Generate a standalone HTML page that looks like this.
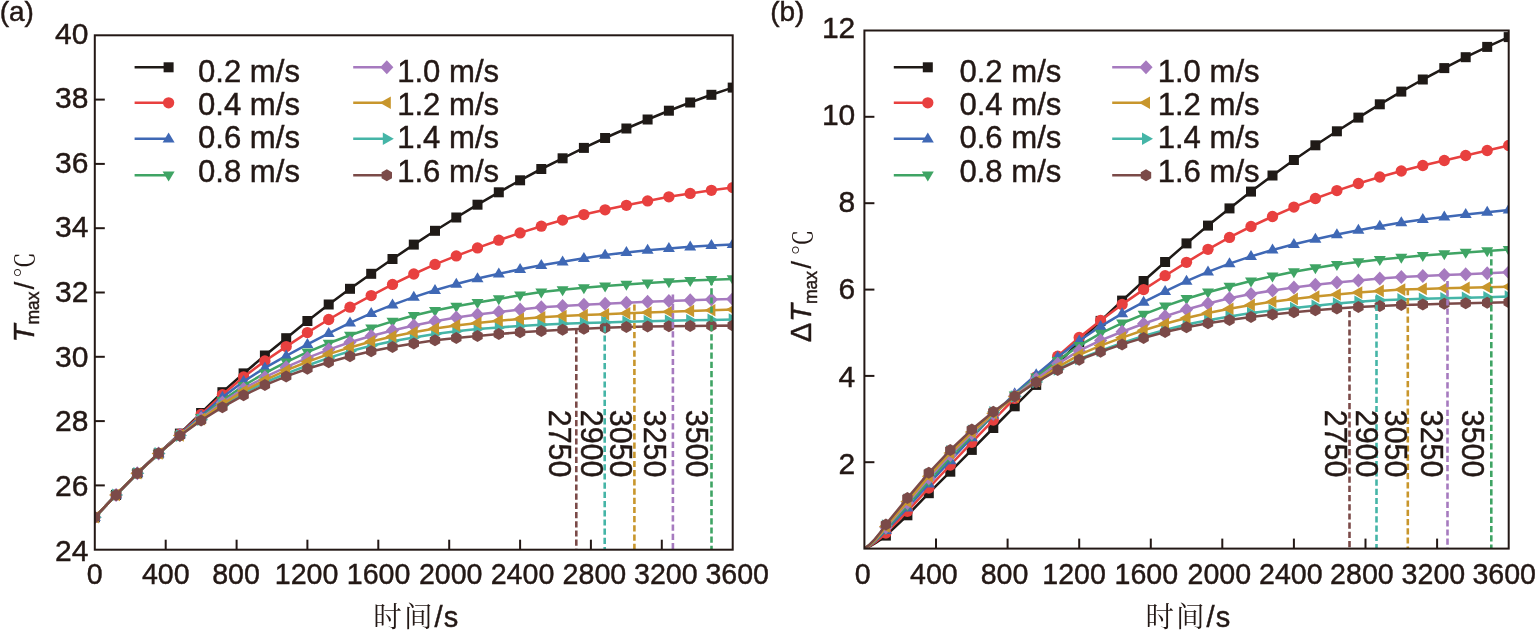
<!DOCTYPE html>
<html lang="zh">
<head>
<meta charset="utf-8">
<title>Tmax and ΔTmax versus time</title>
<style>
html,body{margin:0;padding:0;background:#fff;}
body{width:1540px;height:630px;overflow:hidden;}
svg{display:block;}
svg text{font-family:"Liberation Sans","Noto Sans CJK SC",sans-serif;fill:#231815;stroke:#231815;stroke-width:0.45px;}
svg text.cj, svg tspan.cj{font-family:"Liberation Serif","Noto Serif CJK SC",serif;font-weight:400;font-size:28.5px;stroke:none;}
</style>
</head>
<body>
<svg width="1540" height="630" viewBox="0 0 1540 630">
<rect width="1540" height="630" fill="#ffffff"/>
<clipPath id="clipa"><rect x="94.8" y="35.3" width="637.9" height="514.4"/></clipPath>
<g clip-path="url(#clipa)">
<path d="M94.8,517.3 L116.1,494.9 L137.3,473.3 L158.6,453.5 L179.9,433.6 L201.1,413.0 L222.4,392.2 L243.6,373.4 L264.9,355.5 L286.2,338.2 L307.4,321.0 L328.7,304.5 L350.0,288.8 L371.2,273.8 L392.5,259.0 L413.8,244.6 L435.0,230.8 L456.3,217.5 L477.5,204.7 L498.8,192.3 L520.1,180.3 L541.3,169.0 L562.6,158.3 L583.9,147.9 L605.1,138.0 L626.4,128.5 L647.6,119.5 L668.9,110.7 L690.2,102.5 L711.4,94.8 L732.7,87.6" fill="none" stroke="#1f1a17" stroke-width="2.55" stroke-linejoin="round"/>
<rect x="89.8" y="512.3" width="10.0" height="10.0" fill="#1f1a17"/>
<rect x="111.1" y="489.9" width="10.0" height="10.0" fill="#1f1a17"/>
<rect x="132.3" y="468.3" width="10.0" height="10.0" fill="#1f1a17"/>
<rect x="153.6" y="448.5" width="10.0" height="10.0" fill="#1f1a17"/>
<rect x="174.9" y="428.6" width="10.0" height="10.0" fill="#1f1a17"/>
<rect x="196.1" y="408.0" width="10.0" height="10.0" fill="#1f1a17"/>
<rect x="217.4" y="387.2" width="10.0" height="10.0" fill="#1f1a17"/>
<rect x="238.6" y="368.4" width="10.0" height="10.0" fill="#1f1a17"/>
<rect x="259.9" y="350.5" width="10.0" height="10.0" fill="#1f1a17"/>
<rect x="281.2" y="333.2" width="10.0" height="10.0" fill="#1f1a17"/>
<rect x="302.4" y="316.0" width="10.0" height="10.0" fill="#1f1a17"/>
<rect x="323.7" y="299.5" width="10.0" height="10.0" fill="#1f1a17"/>
<rect x="345.0" y="283.8" width="10.0" height="10.0" fill="#1f1a17"/>
<rect x="366.2" y="268.8" width="10.0" height="10.0" fill="#1f1a17"/>
<rect x="387.5" y="254.0" width="10.0" height="10.0" fill="#1f1a17"/>
<rect x="408.8" y="239.6" width="10.0" height="10.0" fill="#1f1a17"/>
<rect x="430.0" y="225.8" width="10.0" height="10.0" fill="#1f1a17"/>
<rect x="451.3" y="212.5" width="10.0" height="10.0" fill="#1f1a17"/>
<rect x="472.5" y="199.7" width="10.0" height="10.0" fill="#1f1a17"/>
<rect x="493.8" y="187.3" width="10.0" height="10.0" fill="#1f1a17"/>
<rect x="515.1" y="175.3" width="10.0" height="10.0" fill="#1f1a17"/>
<rect x="536.3" y="164.0" width="10.0" height="10.0" fill="#1f1a17"/>
<rect x="557.6" y="153.3" width="10.0" height="10.0" fill="#1f1a17"/>
<rect x="578.9" y="142.9" width="10.0" height="10.0" fill="#1f1a17"/>
<rect x="600.1" y="133.0" width="10.0" height="10.0" fill="#1f1a17"/>
<rect x="621.4" y="123.5" width="10.0" height="10.0" fill="#1f1a17"/>
<rect x="642.6" y="114.5" width="10.0" height="10.0" fill="#1f1a17"/>
<rect x="663.9" y="105.7" width="10.0" height="10.0" fill="#1f1a17"/>
<rect x="685.2" y="97.5" width="10.0" height="10.0" fill="#1f1a17"/>
<rect x="706.4" y="89.8" width="10.0" height="10.0" fill="#1f1a17"/>
<rect x="727.7" y="82.6" width="10.0" height="10.0" fill="#1f1a17"/>
<path d="M94.8,517.3 L116.1,494.9 L137.3,473.3 L158.6,453.6 L179.9,434.2 L201.1,414.5 L222.4,394.7 L243.6,377.0 L264.9,361.0 L286.2,346.6 L307.4,332.6 L328.7,319.5 L350.0,307.2 L371.2,295.6 L392.5,284.4 L413.8,274.0 L435.0,264.4 L456.3,255.9 L477.5,247.9 L498.8,240.2 L520.1,232.9 L541.3,226.2 L562.6,220.1 L583.9,214.6 L605.1,209.8 L626.4,205.3 L647.6,200.9 L668.9,196.8 L690.2,193.4 L711.4,190.3 L732.7,187.6" fill="none" stroke="#E8403F" stroke-width="2.55" stroke-linejoin="round"/>
<circle cx="94.8" cy="517.3" r="5.65" fill="#E8403F"/>
<circle cx="116.1" cy="494.9" r="5.65" fill="#E8403F"/>
<circle cx="137.3" cy="473.3" r="5.65" fill="#E8403F"/>
<circle cx="158.6" cy="453.6" r="5.65" fill="#E8403F"/>
<circle cx="179.9" cy="434.2" r="5.65" fill="#E8403F"/>
<circle cx="201.1" cy="414.5" r="5.65" fill="#E8403F"/>
<circle cx="222.4" cy="394.7" r="5.65" fill="#E8403F"/>
<circle cx="243.6" cy="377.0" r="5.65" fill="#E8403F"/>
<circle cx="264.9" cy="361.0" r="5.65" fill="#E8403F"/>
<circle cx="286.2" cy="346.6" r="5.65" fill="#E8403F"/>
<circle cx="307.4" cy="332.6" r="5.65" fill="#E8403F"/>
<circle cx="328.7" cy="319.5" r="5.65" fill="#E8403F"/>
<circle cx="350.0" cy="307.2" r="5.65" fill="#E8403F"/>
<circle cx="371.2" cy="295.6" r="5.65" fill="#E8403F"/>
<circle cx="392.5" cy="284.4" r="5.65" fill="#E8403F"/>
<circle cx="413.8" cy="274.0" r="5.65" fill="#E8403F"/>
<circle cx="435.0" cy="264.4" r="5.65" fill="#E8403F"/>
<circle cx="456.3" cy="255.9" r="5.65" fill="#E8403F"/>
<circle cx="477.5" cy="247.9" r="5.65" fill="#E8403F"/>
<circle cx="498.8" cy="240.2" r="5.65" fill="#E8403F"/>
<circle cx="520.1" cy="232.9" r="5.65" fill="#E8403F"/>
<circle cx="541.3" cy="226.2" r="5.65" fill="#E8403F"/>
<circle cx="562.6" cy="220.1" r="5.65" fill="#E8403F"/>
<circle cx="583.9" cy="214.6" r="5.65" fill="#E8403F"/>
<circle cx="605.1" cy="209.8" r="5.65" fill="#E8403F"/>
<circle cx="626.4" cy="205.3" r="5.65" fill="#E8403F"/>
<circle cx="647.6" cy="200.9" r="5.65" fill="#E8403F"/>
<circle cx="668.9" cy="196.8" r="5.65" fill="#E8403F"/>
<circle cx="690.2" cy="193.4" r="5.65" fill="#E8403F"/>
<circle cx="711.4" cy="190.3" r="5.65" fill="#E8403F"/>
<circle cx="732.7" cy="187.6" r="5.65" fill="#E8403F"/>
<path d="M94.8,517.3 L116.1,494.9 L137.3,473.3 L158.6,453.7 L179.9,434.7 L201.1,415.9 L222.4,397.2 L243.6,381.5 L264.9,367.9 L286.2,355.8 L307.4,344.4 L328.7,333.4 L350.0,322.9 L371.2,313.4 L392.5,304.9 L413.8,297.1 L435.0,290.3 L456.3,284.1 L477.5,278.6 L498.8,273.8 L520.1,269.3 L541.3,265.3 L562.6,261.8 L583.9,258.3 L605.1,255.1 L626.4,252.4 L647.6,250.2 L668.9,248.4 L690.2,246.8 L711.4,245.5 L732.7,244.4" fill="none" stroke="#3F68B5" stroke-width="2.55" stroke-linejoin="round"/>
<polygon points="88.8,520.9 100.8,520.9 94.8,510.9" fill="#3F68B5"/>
<polygon points="110.1,498.5 122.1,498.5 116.1,488.5" fill="#3F68B5"/>
<polygon points="131.3,476.9 143.3,476.9 137.3,466.9" fill="#3F68B5"/>
<polygon points="152.6,457.3 164.6,457.3 158.6,447.3" fill="#3F68B5"/>
<polygon points="173.9,438.3 185.9,438.3 179.9,428.3" fill="#3F68B5"/>
<polygon points="195.1,419.5 207.1,419.5 201.1,409.5" fill="#3F68B5"/>
<polygon points="216.4,400.8 228.4,400.8 222.4,390.8" fill="#3F68B5"/>
<polygon points="237.6,385.1 249.6,385.1 243.6,375.1" fill="#3F68B5"/>
<polygon points="258.9,371.5 270.9,371.5 264.9,361.5" fill="#3F68B5"/>
<polygon points="280.2,359.4 292.2,359.4 286.2,349.4" fill="#3F68B5"/>
<polygon points="301.4,348.0 313.4,348.0 307.4,338.0" fill="#3F68B5"/>
<polygon points="322.7,337.0 334.7,337.0 328.7,327.0" fill="#3F68B5"/>
<polygon points="344.0,326.5 356.0,326.5 350.0,316.5" fill="#3F68B5"/>
<polygon points="365.2,317.0 377.2,317.0 371.2,307.0" fill="#3F68B5"/>
<polygon points="386.5,308.5 398.5,308.5 392.5,298.5" fill="#3F68B5"/>
<polygon points="407.8,300.7 419.8,300.7 413.8,290.7" fill="#3F68B5"/>
<polygon points="429.0,293.9 441.0,293.9 435.0,283.9" fill="#3F68B5"/>
<polygon points="450.3,287.7 462.3,287.7 456.3,277.7" fill="#3F68B5"/>
<polygon points="471.5,282.2 483.5,282.2 477.5,272.2" fill="#3F68B5"/>
<polygon points="492.8,277.4 504.8,277.4 498.8,267.4" fill="#3F68B5"/>
<polygon points="514.1,272.9 526.1,272.9 520.1,262.9" fill="#3F68B5"/>
<polygon points="535.3,268.9 547.3,268.9 541.3,258.9" fill="#3F68B5"/>
<polygon points="556.6,265.4 568.6,265.4 562.6,255.4" fill="#3F68B5"/>
<polygon points="577.9,261.9 589.9,261.9 583.9,251.9" fill="#3F68B5"/>
<polygon points="599.1,258.7 611.1,258.7 605.1,248.7" fill="#3F68B5"/>
<polygon points="620.4,256.0 632.4,256.0 626.4,246.0" fill="#3F68B5"/>
<polygon points="641.6,253.8 653.6,253.8 647.6,243.8" fill="#3F68B5"/>
<polygon points="662.9,252.0 674.9,252.0 668.9,242.0" fill="#3F68B5"/>
<polygon points="684.2,250.4 696.2,250.4 690.2,240.4" fill="#3F68B5"/>
<polygon points="705.4,249.1 717.4,249.1 711.4,239.1" fill="#3F68B5"/>
<polygon points="726.7,248.0 738.7,248.0 732.7,238.0" fill="#3F68B5"/>
<path d="M94.8,517.3 L116.1,494.9 L137.3,473.3 L158.6,453.6 L179.9,435.2 L201.1,417.5 L222.4,400.6 L243.6,385.7 L264.9,373.1 L286.2,362.2 L307.4,352.1 L328.7,343.3 L350.0,335.3 L371.2,328.0 L392.5,321.4 L413.8,315.6 L435.0,310.6 L456.3,306.3 L477.5,302.6 L498.8,298.9 L520.1,295.2 L541.3,292.0 L562.6,289.8 L583.9,287.8 L605.1,286.0 L626.4,284.4 L647.6,283.0 L668.9,281.8 L690.2,280.6 L711.4,279.7 L732.7,278.9" fill="none" stroke="#3FA464" stroke-width="2.55" stroke-linejoin="round"/>
<polygon points="88.8,513.7 100.8,513.7 94.8,523.7" fill="#3FA464"/>
<polygon points="110.1,491.3 122.1,491.3 116.1,501.3" fill="#3FA464"/>
<polygon points="131.3,469.7 143.3,469.7 137.3,479.7" fill="#3FA464"/>
<polygon points="152.6,450.0 164.6,450.0 158.6,460.0" fill="#3FA464"/>
<polygon points="173.9,431.6 185.9,431.6 179.9,441.6" fill="#3FA464"/>
<polygon points="195.1,413.9 207.1,413.9 201.1,423.9" fill="#3FA464"/>
<polygon points="216.4,397.0 228.4,397.0 222.4,407.0" fill="#3FA464"/>
<polygon points="237.6,382.1 249.6,382.1 243.6,392.1" fill="#3FA464"/>
<polygon points="258.9,369.5 270.9,369.5 264.9,379.5" fill="#3FA464"/>
<polygon points="280.2,358.6 292.2,358.6 286.2,368.6" fill="#3FA464"/>
<polygon points="301.4,348.5 313.4,348.5 307.4,358.5" fill="#3FA464"/>
<polygon points="322.7,339.7 334.7,339.7 328.7,349.7" fill="#3FA464"/>
<polygon points="344.0,331.7 356.0,331.7 350.0,341.7" fill="#3FA464"/>
<polygon points="365.2,324.4 377.2,324.4 371.2,334.4" fill="#3FA464"/>
<polygon points="386.5,317.8 398.5,317.8 392.5,327.8" fill="#3FA464"/>
<polygon points="407.8,312.0 419.8,312.0 413.8,322.0" fill="#3FA464"/>
<polygon points="429.0,307.0 441.0,307.0 435.0,317.0" fill="#3FA464"/>
<polygon points="450.3,302.7 462.3,302.7 456.3,312.7" fill="#3FA464"/>
<polygon points="471.5,299.0 483.5,299.0 477.5,309.0" fill="#3FA464"/>
<polygon points="492.8,295.3 504.8,295.3 498.8,305.3" fill="#3FA464"/>
<polygon points="514.1,291.6 526.1,291.6 520.1,301.6" fill="#3FA464"/>
<polygon points="535.3,288.4 547.3,288.4 541.3,298.4" fill="#3FA464"/>
<polygon points="556.6,286.2 568.6,286.2 562.6,296.2" fill="#3FA464"/>
<polygon points="577.9,284.2 589.9,284.2 583.9,294.2" fill="#3FA464"/>
<polygon points="599.1,282.4 611.1,282.4 605.1,292.4" fill="#3FA464"/>
<polygon points="620.4,280.8 632.4,280.8 626.4,290.8" fill="#3FA464"/>
<polygon points="641.6,279.4 653.6,279.4 647.6,289.4" fill="#3FA464"/>
<polygon points="662.9,278.2 674.9,278.2 668.9,288.2" fill="#3FA464"/>
<polygon points="684.2,277.0 696.2,277.0 690.2,287.0" fill="#3FA464"/>
<polygon points="705.4,276.1 717.4,276.1 711.4,286.1" fill="#3FA464"/>
<polygon points="726.7,275.3 738.7,275.3 732.7,285.3" fill="#3FA464"/>
<path d="M94.8,517.3 L116.1,494.9 L137.3,473.3 L158.6,453.5 L179.9,435.3 L201.1,418.3 L222.4,402.6 L243.6,388.7 L264.9,377.2 L286.2,367.2 L307.4,357.9 L328.7,349.6 L350.0,342.3 L371.2,336.0 L392.5,330.5 L413.8,325.6 L435.0,321.2 L456.3,317.5 L477.5,314.5 L498.8,312.1 L520.1,309.5 L541.3,307.3 L562.6,306.0 L583.9,304.8 L605.1,303.7 L626.4,302.7 L647.6,301.8 L668.9,301.0 L690.2,300.2 L711.4,299.5 L732.7,298.9" fill="none" stroke="#A67ABF" stroke-width="2.55" stroke-linejoin="round"/>
<polygon points="88.2,517.3 94.8,510.3 101.4,517.3 94.8,524.3" fill="#A67ABF"/>
<polygon points="109.5,494.9 116.1,487.9 122.7,494.9 116.1,501.9" fill="#A67ABF"/>
<polygon points="130.7,473.3 137.3,466.3 143.9,473.3 137.3,480.3" fill="#A67ABF"/>
<polygon points="152.0,453.5 158.6,446.5 165.2,453.5 158.6,460.5" fill="#A67ABF"/>
<polygon points="173.3,435.3 179.9,428.3 186.5,435.3 179.9,442.3" fill="#A67ABF"/>
<polygon points="194.5,418.3 201.1,411.3 207.7,418.3 201.1,425.3" fill="#A67ABF"/>
<polygon points="215.8,402.6 222.4,395.6 229.0,402.6 222.4,409.6" fill="#A67ABF"/>
<polygon points="237.0,388.7 243.6,381.7 250.2,388.7 243.6,395.7" fill="#A67ABF"/>
<polygon points="258.3,377.2 264.9,370.2 271.5,377.2 264.9,384.2" fill="#A67ABF"/>
<polygon points="279.6,367.2 286.2,360.2 292.8,367.2 286.2,374.2" fill="#A67ABF"/>
<polygon points="300.8,357.9 307.4,350.9 314.0,357.9 307.4,364.9" fill="#A67ABF"/>
<polygon points="322.1,349.6 328.7,342.6 335.3,349.6 328.7,356.6" fill="#A67ABF"/>
<polygon points="343.4,342.3 350.0,335.3 356.6,342.3 350.0,349.3" fill="#A67ABF"/>
<polygon points="364.6,336.0 371.2,329.0 377.8,336.0 371.2,343.0" fill="#A67ABF"/>
<polygon points="385.9,330.5 392.5,323.5 399.1,330.5 392.5,337.5" fill="#A67ABF"/>
<polygon points="407.2,325.6 413.8,318.6 420.4,325.6 413.8,332.6" fill="#A67ABF"/>
<polygon points="428.4,321.2 435.0,314.2 441.6,321.2 435.0,328.2" fill="#A67ABF"/>
<polygon points="449.7,317.5 456.3,310.5 462.9,317.5 456.3,324.5" fill="#A67ABF"/>
<polygon points="470.9,314.5 477.5,307.5 484.1,314.5 477.5,321.5" fill="#A67ABF"/>
<polygon points="492.2,312.1 498.8,305.1 505.4,312.1 498.8,319.1" fill="#A67ABF"/>
<polygon points="513.5,309.5 520.1,302.5 526.7,309.5 520.1,316.5" fill="#A67ABF"/>
<polygon points="534.7,307.3 541.3,300.3 547.9,307.3 541.3,314.3" fill="#A67ABF"/>
<polygon points="556.0,306.0 562.6,299.0 569.2,306.0 562.6,313.0" fill="#A67ABF"/>
<polygon points="577.3,304.8 583.9,297.8 590.5,304.8 583.9,311.8" fill="#A67ABF"/>
<polygon points="598.5,303.7 605.1,296.7 611.7,303.7 605.1,310.7" fill="#A67ABF"/>
<polygon points="619.8,302.7 626.4,295.7 633.0,302.7 626.4,309.7" fill="#A67ABF"/>
<polygon points="641.0,301.8 647.6,294.8 654.2,301.8 647.6,308.8" fill="#A67ABF"/>
<polygon points="662.3,301.0 668.9,294.0 675.5,301.0 668.9,308.0" fill="#A67ABF"/>
<polygon points="683.6,300.2 690.2,293.2 696.8,300.2 690.2,307.2" fill="#A67ABF"/>
<polygon points="704.8,299.5 711.4,292.5 718.0,299.5 711.4,306.5" fill="#A67ABF"/>
<polygon points="726.1,298.9 732.7,291.9 739.3,298.9 732.7,305.9" fill="#A67ABF"/>
<path d="M94.8,517.3 L116.1,494.9 L137.3,473.3 L158.6,453.4 L179.9,435.6 L201.1,419.7 L222.4,405.4 L243.6,392.9 L264.9,382.5 L286.2,373.6 L307.4,365.5 L328.7,357.9 L350.0,351.3 L371.2,345.8 L392.5,341.2 L413.8,337.4 L435.0,334.1 L456.3,331.3 L477.5,329.0 L498.8,327.4 L520.1,325.9 L541.3,324.7 L562.6,323.8 L583.9,323.1 L605.1,322.4 L626.4,321.8 L647.6,321.3 L668.9,320.8 L690.2,320.3 L711.4,319.9 L732.7,319.6" fill="none" stroke="#45B5A7" stroke-width="2.55" stroke-linejoin="round"/>
<polygon points="90.8,511.0 90.8,523.6 101.8,517.3" fill="#45B5A7"/>
<polygon points="112.1,488.6 112.1,501.2 123.1,494.9" fill="#45B5A7"/>
<polygon points="133.4,467.0 133.4,479.6 144.4,473.3" fill="#45B5A7"/>
<polygon points="154.6,447.1 154.6,459.7 165.6,453.4" fill="#45B5A7"/>
<polygon points="175.9,429.3 175.9,441.9 186.9,435.6" fill="#45B5A7"/>
<polygon points="197.2,413.4 197.2,426.0 208.2,419.7" fill="#45B5A7"/>
<polygon points="218.4,399.1 218.4,411.7 229.4,405.4" fill="#45B5A7"/>
<polygon points="239.7,386.6 239.7,399.2 250.7,392.9" fill="#45B5A7"/>
<polygon points="260.9,376.2 260.9,388.8 271.9,382.5" fill="#45B5A7"/>
<polygon points="282.2,367.3 282.2,379.9 293.2,373.6" fill="#45B5A7"/>
<polygon points="303.5,359.2 303.5,371.8 314.5,365.5" fill="#45B5A7"/>
<polygon points="324.7,351.6 324.7,364.2 335.7,357.9" fill="#45B5A7"/>
<polygon points="346.0,345.0 346.0,357.6 357.0,351.3" fill="#45B5A7"/>
<polygon points="367.3,339.5 367.3,352.1 378.3,345.8" fill="#45B5A7"/>
<polygon points="388.5,334.9 388.5,347.5 399.5,341.2" fill="#45B5A7"/>
<polygon points="409.8,331.1 409.8,343.7 420.8,337.4" fill="#45B5A7"/>
<polygon points="431.1,327.8 431.1,340.4 442.1,334.1" fill="#45B5A7"/>
<polygon points="452.3,325.0 452.3,337.6 463.3,331.3" fill="#45B5A7"/>
<polygon points="473.6,322.7 473.6,335.3 484.6,329.0" fill="#45B5A7"/>
<polygon points="494.8,321.1 494.8,333.7 505.8,327.4" fill="#45B5A7"/>
<polygon points="516.1,319.6 516.1,332.2 527.1,325.9" fill="#45B5A7"/>
<polygon points="537.4,318.4 537.4,331.0 548.4,324.7" fill="#45B5A7"/>
<polygon points="558.6,317.5 558.6,330.1 569.6,323.8" fill="#45B5A7"/>
<polygon points="579.9,316.8 579.9,329.4 590.9,323.1" fill="#45B5A7"/>
<polygon points="601.2,316.1 601.2,328.7 612.2,322.4" fill="#45B5A7"/>
<polygon points="622.4,315.5 622.4,328.1 633.4,321.8" fill="#45B5A7"/>
<polygon points="643.7,315.0 643.7,327.6 654.7,321.3" fill="#45B5A7"/>
<polygon points="664.9,314.5 664.9,327.1 675.9,320.8" fill="#45B5A7"/>
<polygon points="686.2,314.0 686.2,326.6 697.2,320.3" fill="#45B5A7"/>
<polygon points="707.5,313.6 707.5,326.2 718.5,319.9" fill="#45B5A7"/>
<polygon points="728.7,313.3 728.7,325.9 739.7,319.6" fill="#45B5A7"/>
<path d="M94.8,517.3 L116.1,494.9 L137.3,473.3 L158.6,453.5 L179.9,435.5 L201.1,419.1 L222.4,404.2 L243.6,391.1 L264.9,380.1 L286.2,370.4 L307.4,361.7 L328.7,354.1 L350.0,347.4 L371.2,341.4 L392.5,336.4 L413.8,332.2 L435.0,328.6 L456.3,325.4 L477.5,322.9 L498.8,320.8 L520.1,318.9 L541.3,317.2 L562.6,316.1 L583.9,315.1 L605.1,314.2 L626.4,313.3 L647.6,312.5 L668.9,311.7 L690.2,310.9 L711.4,310.2 L732.7,309.6" fill="none" stroke="#C8962C" stroke-width="2.55" stroke-linejoin="round"/>
<polygon points="98.8,511.0 98.8,523.6 87.8,517.3" fill="#C8962C"/>
<polygon points="120.0,488.6 120.0,501.2 109.0,494.9" fill="#C8962C"/>
<polygon points="141.3,467.0 141.3,479.6 130.3,473.3" fill="#C8962C"/>
<polygon points="162.6,447.2 162.6,459.8 151.6,453.5" fill="#C8962C"/>
<polygon points="183.8,429.2 183.8,441.8 172.8,435.5" fill="#C8962C"/>
<polygon points="205.1,412.8 205.1,425.4 194.1,419.1" fill="#C8962C"/>
<polygon points="226.3,397.9 226.3,410.5 215.3,404.2" fill="#C8962C"/>
<polygon points="247.6,384.8 247.6,397.4 236.6,391.1" fill="#C8962C"/>
<polygon points="268.9,373.8 268.9,386.4 257.9,380.1" fill="#C8962C"/>
<polygon points="290.1,364.1 290.1,376.7 279.1,370.4" fill="#C8962C"/>
<polygon points="311.4,355.4 311.4,368.0 300.4,361.7" fill="#C8962C"/>
<polygon points="332.7,347.8 332.7,360.4 321.7,354.1" fill="#C8962C"/>
<polygon points="353.9,341.1 353.9,353.7 342.9,347.4" fill="#C8962C"/>
<polygon points="375.2,335.1 375.2,347.7 364.2,341.4" fill="#C8962C"/>
<polygon points="396.4,330.1 396.4,342.7 385.4,336.4" fill="#C8962C"/>
<polygon points="417.7,325.9 417.7,338.5 406.7,332.2" fill="#C8962C"/>
<polygon points="439.0,322.3 439.0,334.9 428.0,328.6" fill="#C8962C"/>
<polygon points="460.2,319.1 460.2,331.7 449.2,325.4" fill="#C8962C"/>
<polygon points="481.5,316.6 481.5,329.2 470.5,322.9" fill="#C8962C"/>
<polygon points="502.8,314.5 502.8,327.1 491.8,320.8" fill="#C8962C"/>
<polygon points="524.0,312.6 524.0,325.2 513.0,318.9" fill="#C8962C"/>
<polygon points="545.3,310.9 545.3,323.5 534.3,317.2" fill="#C8962C"/>
<polygon points="566.6,309.8 566.6,322.4 555.6,316.1" fill="#C8962C"/>
<polygon points="587.8,308.8 587.8,321.4 576.8,315.1" fill="#C8962C"/>
<polygon points="609.1,307.9 609.1,320.5 598.1,314.2" fill="#C8962C"/>
<polygon points="630.3,307.0 630.3,319.6 619.3,313.3" fill="#C8962C"/>
<polygon points="651.6,306.2 651.6,318.8 640.6,312.5" fill="#C8962C"/>
<polygon points="672.9,305.4 672.9,318.0 661.9,311.7" fill="#C8962C"/>
<polygon points="694.1,304.6 694.1,317.2 683.1,310.9" fill="#C8962C"/>
<polygon points="715.4,303.9 715.4,316.5 704.4,310.2" fill="#C8962C"/>
<polygon points="736.7,303.3 736.7,315.9 725.7,309.6" fill="#C8962C"/>
<path d="M94.8,517.3 L116.1,494.9 L137.3,473.3 L158.6,453.3 L179.9,435.8 L201.1,420.5 L222.4,407.2 L243.6,395.3 L264.9,385.1 L286.2,376.4 L307.4,368.8 L328.7,362.2 L350.0,356.2 L371.2,351.2 L392.5,347.0 L413.8,343.4 L435.0,340.3 L456.3,337.9 L477.5,335.9 L498.8,334.0 L520.1,332.3 L541.3,331.0 L562.6,329.8 L583.9,328.7 L605.1,327.8 L626.4,327.1 L647.6,326.6 L668.9,326.2 L690.2,325.9 L711.4,325.7 L732.7,325.6" fill="none" stroke="#7B4A48" stroke-width="2.55" stroke-linejoin="round"/>
<polygon points="94.8,511.3 100.0,514.3 100.0,520.3 94.8,523.3 89.6,520.3 89.6,514.3" fill="#7B4A48"/>
<polygon points="116.1,488.9 121.3,491.9 121.3,497.9 116.1,500.9 110.9,497.9 110.9,491.9" fill="#7B4A48"/>
<polygon points="137.3,467.3 142.5,470.3 142.5,476.3 137.3,479.3 132.1,476.3 132.1,470.3" fill="#7B4A48"/>
<polygon points="158.6,447.3 163.8,450.3 163.8,456.3 158.6,459.3 153.4,456.3 153.4,450.3" fill="#7B4A48"/>
<polygon points="179.9,429.8 185.1,432.8 185.1,438.8 179.9,441.8 174.7,438.8 174.7,432.8" fill="#7B4A48"/>
<polygon points="201.1,414.5 206.3,417.5 206.3,423.5 201.1,426.5 195.9,423.5 195.9,417.5" fill="#7B4A48"/>
<polygon points="222.4,401.2 227.6,404.2 227.6,410.2 222.4,413.2 217.2,410.2 217.2,404.2" fill="#7B4A48"/>
<polygon points="243.6,389.3 248.8,392.3 248.8,398.3 243.6,401.3 238.4,398.3 238.4,392.3" fill="#7B4A48"/>
<polygon points="264.9,379.1 270.1,382.1 270.1,388.1 264.9,391.1 259.7,388.1 259.7,382.1" fill="#7B4A48"/>
<polygon points="286.2,370.4 291.4,373.4 291.4,379.4 286.2,382.4 281.0,379.4 281.0,373.4" fill="#7B4A48"/>
<polygon points="307.4,362.8 312.6,365.8 312.6,371.8 307.4,374.8 302.2,371.8 302.2,365.8" fill="#7B4A48"/>
<polygon points="328.7,356.2 333.9,359.2 333.9,365.2 328.7,368.2 323.5,365.2 323.5,359.2" fill="#7B4A48"/>
<polygon points="350.0,350.2 355.2,353.2 355.2,359.2 350.0,362.2 344.8,359.2 344.8,353.2" fill="#7B4A48"/>
<polygon points="371.2,345.2 376.4,348.2 376.4,354.2 371.2,357.2 366.0,354.2 366.0,348.2" fill="#7B4A48"/>
<polygon points="392.5,341.0 397.7,344.0 397.7,350.0 392.5,353.0 387.3,350.0 387.3,344.0" fill="#7B4A48"/>
<polygon points="413.8,337.4 419.0,340.4 419.0,346.4 413.8,349.4 408.6,346.4 408.6,340.4" fill="#7B4A48"/>
<polygon points="435.0,334.3 440.2,337.3 440.2,343.3 435.0,346.3 429.8,343.3 429.8,337.3" fill="#7B4A48"/>
<polygon points="456.3,331.9 461.5,334.9 461.5,340.9 456.3,343.9 451.1,340.9 451.1,334.9" fill="#7B4A48"/>
<polygon points="477.5,329.9 482.7,332.9 482.7,338.9 477.5,341.9 472.3,338.9 472.3,332.9" fill="#7B4A48"/>
<polygon points="498.8,328.0 504.0,331.0 504.0,337.0 498.8,340.0 493.6,337.0 493.6,331.0" fill="#7B4A48"/>
<polygon points="520.1,326.3 525.3,329.3 525.3,335.3 520.1,338.3 514.9,335.3 514.9,329.3" fill="#7B4A48"/>
<polygon points="541.3,325.0 546.5,328.0 546.5,334.0 541.3,337.0 536.1,334.0 536.1,328.0" fill="#7B4A48"/>
<polygon points="562.6,323.8 567.8,326.8 567.8,332.8 562.6,335.8 557.4,332.8 557.4,326.8" fill="#7B4A48"/>
<polygon points="583.9,322.7 589.1,325.7 589.1,331.7 583.9,334.7 578.7,331.7 578.7,325.7" fill="#7B4A48"/>
<polygon points="605.1,321.8 610.3,324.8 610.3,330.8 605.1,333.8 599.9,330.8 599.9,324.8" fill="#7B4A48"/>
<polygon points="626.4,321.1 631.6,324.1 631.6,330.1 626.4,333.1 621.2,330.1 621.2,324.1" fill="#7B4A48"/>
<polygon points="647.6,320.6 652.8,323.6 652.8,329.6 647.6,332.6 642.4,329.6 642.4,323.6" fill="#7B4A48"/>
<polygon points="668.9,320.2 674.1,323.2 674.1,329.2 668.9,332.2 663.7,329.2 663.7,323.2" fill="#7B4A48"/>
<polygon points="690.2,319.9 695.4,322.9 695.4,328.9 690.2,331.9 685.0,328.9 685.0,322.9" fill="#7B4A48"/>
<polygon points="711.4,319.7 716.6,322.7 716.6,328.7 711.4,331.7 706.2,328.7 706.2,322.7" fill="#7B4A48"/>
<polygon points="732.7,319.6 737.9,322.6 737.9,328.6 732.7,331.6 727.5,328.6 727.5,322.6" fill="#7B4A48"/>
<line x1="576.3" y1="328" x2="576.3" y2="549.7" stroke="#7B4A48" stroke-width="2.6" stroke-dasharray="6.2 3"/>
<line x1="604.7" y1="317" x2="604.7" y2="549.7" stroke="#45B5A7" stroke-width="2.6" stroke-dasharray="6.2 3"/>
<line x1="634.4" y1="304.5" x2="634.4" y2="549.7" stroke="#C8962C" stroke-width="2.6" stroke-dasharray="6.2 3"/>
<line x1="672.9" y1="294.5" x2="672.9" y2="549.7" stroke="#A67ABF" stroke-width="2.6" stroke-dasharray="6.2 3"/>
<line x1="711.5" y1="279" x2="711.5" y2="549.7" stroke="#3FA464" stroke-width="2.6" stroke-dasharray="6.2 3"/>
</g>
<rect x="94.8" y="35.3" width="637.9" height="514.4" fill="none" stroke="#231815" stroke-width="2"/>
<line x1="165.7" y1="549.7" x2="165.7" y2="539.7" stroke="#231815" stroke-width="2"/>
<line x1="236.6" y1="549.7" x2="236.6" y2="539.7" stroke="#231815" stroke-width="2"/>
<line x1="307.4" y1="549.7" x2="307.4" y2="539.7" stroke="#231815" stroke-width="2"/>
<line x1="378.3" y1="549.7" x2="378.3" y2="539.7" stroke="#231815" stroke-width="2"/>
<line x1="449.2" y1="549.7" x2="449.2" y2="539.7" stroke="#231815" stroke-width="2"/>
<line x1="520.1" y1="549.7" x2="520.1" y2="539.7" stroke="#231815" stroke-width="2"/>
<line x1="590.9" y1="549.7" x2="590.9" y2="539.7" stroke="#231815" stroke-width="2"/>
<line x1="661.8" y1="549.7" x2="661.8" y2="539.7" stroke="#231815" stroke-width="2"/>
<line x1="94.8" y1="485.4" x2="104.8" y2="485.4" stroke="#231815" stroke-width="2"/>
<line x1="94.8" y1="421.1" x2="104.8" y2="421.1" stroke="#231815" stroke-width="2"/>
<line x1="94.8" y1="356.8" x2="104.8" y2="356.8" stroke="#231815" stroke-width="2"/>
<line x1="94.8" y1="292.5" x2="104.8" y2="292.5" stroke="#231815" stroke-width="2"/>
<line x1="94.8" y1="228.2" x2="104.8" y2="228.2" stroke="#231815" stroke-width="2"/>
<line x1="94.8" y1="163.9" x2="104.8" y2="163.9" stroke="#231815" stroke-width="2"/>
<line x1="94.8" y1="99.6" x2="104.8" y2="99.6" stroke="#231815" stroke-width="2"/>
<text x="88.4" y="560.6" text-anchor="end" font-size="30">24</text>
<text x="88.4" y="496.0" text-anchor="end" font-size="30">26</text>
<text x="88.4" y="431.3" text-anchor="end" font-size="30">28</text>
<text x="88.4" y="366.7" text-anchor="end" font-size="30">30</text>
<text x="88.4" y="302.1" text-anchor="end" font-size="30">32</text>
<text x="88.4" y="237.4" text-anchor="end" font-size="30">34</text>
<text x="88.4" y="172.8" text-anchor="end" font-size="30">36</text>
<text x="88.4" y="108.1" text-anchor="end" font-size="30">38</text>
<text x="88.4" y="43.5" text-anchor="end" font-size="30">40</text>
<text x="86.7" y="584.0" font-size="30" textLength="15.9" lengthAdjust="spacingAndGlyphs">0</text>
<text x="141.9" y="584.0" font-size="30" textLength="47.7" lengthAdjust="spacingAndGlyphs">400</text>
<text x="212.2" y="584.0" font-size="30" textLength="47.7" lengthAdjust="spacingAndGlyphs">800</text>
<text x="274.8" y="584.0" font-size="30" textLength="63.6" lengthAdjust="spacingAndGlyphs">1200</text>
<text x="346.8" y="584.0" font-size="30" textLength="63.6" lengthAdjust="spacingAndGlyphs">1600</text>
<text x="418.9" y="584.0" font-size="30" textLength="63.6" lengthAdjust="spacingAndGlyphs">2000</text>
<text x="490.7" y="584.0" font-size="30" textLength="63.6" lengthAdjust="spacingAndGlyphs">2400</text>
<text x="562.6" y="584.0" font-size="30" textLength="63.6" lengthAdjust="spacingAndGlyphs">2800</text>
<text x="634.0" y="584.0" font-size="30" textLength="63.6" lengthAdjust="spacingAndGlyphs">3200</text>
<text x="705.4" y="584.0" font-size="30" textLength="63.6" lengthAdjust="spacingAndGlyphs">3600</text>
<text y="627.3" class="cj"><tspan x="373.3">时</tspan><tspan x="403.9">间</tspan></text>
<text y="626.5" font-size="29"><tspan x="434.4">/</tspan><tspan x="443.7">s</tspan></text>
<text transform="translate(549.2,409.8) rotate(90)" font-size="31.2" textLength="67.6" lengthAdjust="spacingAndGlyphs">2750</text>
<text transform="translate(580.6,409.8) rotate(90)" font-size="31.2" textLength="67.6" lengthAdjust="spacingAndGlyphs">2900</text>
<text transform="translate(609.7,409.8) rotate(90)" font-size="31.2" textLength="67.6" lengthAdjust="spacingAndGlyphs">3050</text>
<text transform="translate(644.3,409.8) rotate(90)" font-size="31.2" textLength="67.6" lengthAdjust="spacingAndGlyphs">3250</text>
<text transform="translate(686.2,409.8) rotate(90)" font-size="31.2" textLength="67.6" lengthAdjust="spacingAndGlyphs">3500</text>
<line x1="134.6" y1="67.3" x2="168.6" y2="67.3" stroke="#1f1a17" stroke-width="2.55"/>
<rect x="163.6" y="62.3" width="10.0" height="10.0" fill="#1f1a17"/>
<text x="198.0" y="81.8" font-size="31.1">0.2 m/s</text>
<line x1="134.6" y1="102.8" x2="168.6" y2="102.8" stroke="#E8403F" stroke-width="2.55"/>
<circle cx="168.6" cy="102.8" r="5.65" fill="#E8403F"/>
<text x="198.0" y="115.1" font-size="31.1">0.4 m/s</text>
<line x1="134.6" y1="138.8" x2="168.6" y2="138.8" stroke="#3F68B5" stroke-width="2.55"/>
<polygon points="162.6,142.4 174.6,142.4 168.6,132.4" fill="#3F68B5"/>
<text x="198.0" y="148.4" font-size="31.1">0.6 m/s</text>
<line x1="134.6" y1="175.2" x2="168.6" y2="175.2" stroke="#3FA464" stroke-width="2.55"/>
<polygon points="162.6,171.6 174.6,171.6 168.6,181.6" fill="#3FA464"/>
<text x="198.0" y="181.7" font-size="31.1">0.8 m/s</text>
<line x1="353.2" y1="67.3" x2="386.8" y2="67.3" stroke="#A67ABF" stroke-width="2.55"/>
<polygon points="380.2,67.3 386.8,60.3 393.4,67.3 386.8,74.3" fill="#A67ABF"/>
<text x="397.2" y="81.8" font-size="31.1">1.0 m/s</text>
<line x1="353.2" y1="102.8" x2="386.8" y2="102.8" stroke="#C8962C" stroke-width="2.55"/>
<polygon points="390.8,96.5 390.8,109.1 379.8,102.8" fill="#C8962C"/>
<text x="397.2" y="115.1" font-size="31.1">1.2 m/s</text>
<line x1="353.2" y1="138.8" x2="386.8" y2="138.8" stroke="#45B5A7" stroke-width="2.55"/>
<polygon points="382.8,132.5 382.8,145.1 393.8,138.8" fill="#45B5A7"/>
<text x="397.2" y="148.4" font-size="31.1">1.4 m/s</text>
<line x1="353.2" y1="175.2" x2="386.8" y2="175.2" stroke="#7B4A48" stroke-width="2.55"/>
<polygon points="386.8,169.2 392.0,172.2 392.0,178.2 386.8,181.2 381.6,178.2 381.6,172.2" fill="#7B4A48"/>
<text x="397.2" y="181.7" font-size="31.1">1.6 m/s</text>
<text x="-0.3" y="21.2" font-size="28">(a)</text>
<text transform="translate(33.9,342.3) rotate(-90)" font-size="29" font-style="italic">T</text>
<text transform="translate(39.4,324.6) rotate(-90)" font-size="17.5">max</text>
<text transform="translate(33.9,289.6) rotate(-90)" font-size="28" style="stroke-width:0.2px">/</text>
<text transform="translate(34.199999999999996,278.0) rotate(-90)" class="cj" style="font-size:26px">℃</text>
<clipPath id="clipb"><rect x="864.4" y="30.5" width="644.3" height="518.1"/></clipPath>
<g clip-path="url(#clipb)">
<path d="M864.4,548.5 Q873.4,545.7 885.9,535.6 L907.4,515.3 928.8,493.2 950.3,471.7 971.8,449.9 993.3,428.0 1014.7,406.3 1036.2,384.9 1057.7,363.5 1079.2,342.0 1100.6,320.9 1122.1,300.6 1143.6,281.0 1165.1,262.0 1186.5,243.4 1208.0,225.6 1229.5,208.4 1251.0,191.6 1272.5,175.5 1293.9,160.0 1315.4,145.3 1336.9,131.3 1358.4,117.6 1379.8,104.3 1401.3,91.6 1422.8,79.5 1444.3,68.1 1465.7,57.2 1487.2,46.9 1508.7,37.1" fill="none" stroke="#1f1a17" stroke-width="2.55" stroke-linejoin="round"/>
<rect x="880.9" y="530.6" width="10.0" height="10.0" fill="#1f1a17"/>
<rect x="902.4" y="510.3" width="10.0" height="10.0" fill="#1f1a17"/>
<rect x="923.8" y="488.2" width="10.0" height="10.0" fill="#1f1a17"/>
<rect x="945.3" y="466.7" width="10.0" height="10.0" fill="#1f1a17"/>
<rect x="966.8" y="444.9" width="10.0" height="10.0" fill="#1f1a17"/>
<rect x="988.3" y="423.0" width="10.0" height="10.0" fill="#1f1a17"/>
<rect x="1009.7" y="401.3" width="10.0" height="10.0" fill="#1f1a17"/>
<rect x="1031.2" y="379.9" width="10.0" height="10.0" fill="#1f1a17"/>
<rect x="1052.7" y="358.5" width="10.0" height="10.0" fill="#1f1a17"/>
<rect x="1074.2" y="337.0" width="10.0" height="10.0" fill="#1f1a17"/>
<rect x="1095.6" y="315.9" width="10.0" height="10.0" fill="#1f1a17"/>
<rect x="1117.1" y="295.6" width="10.0" height="10.0" fill="#1f1a17"/>
<rect x="1138.6" y="276.0" width="10.0" height="10.0" fill="#1f1a17"/>
<rect x="1160.1" y="257.0" width="10.0" height="10.0" fill="#1f1a17"/>
<rect x="1181.5" y="238.4" width="10.0" height="10.0" fill="#1f1a17"/>
<rect x="1203.0" y="220.6" width="10.0" height="10.0" fill="#1f1a17"/>
<rect x="1224.5" y="203.4" width="10.0" height="10.0" fill="#1f1a17"/>
<rect x="1246.0" y="186.6" width="10.0" height="10.0" fill="#1f1a17"/>
<rect x="1267.5" y="170.5" width="10.0" height="10.0" fill="#1f1a17"/>
<rect x="1288.9" y="155.0" width="10.0" height="10.0" fill="#1f1a17"/>
<rect x="1310.4" y="140.3" width="10.0" height="10.0" fill="#1f1a17"/>
<rect x="1331.9" y="126.3" width="10.0" height="10.0" fill="#1f1a17"/>
<rect x="1353.4" y="112.6" width="10.0" height="10.0" fill="#1f1a17"/>
<rect x="1374.8" y="99.3" width="10.0" height="10.0" fill="#1f1a17"/>
<rect x="1396.3" y="86.6" width="10.0" height="10.0" fill="#1f1a17"/>
<rect x="1417.8" y="74.5" width="10.0" height="10.0" fill="#1f1a17"/>
<rect x="1439.3" y="63.1" width="10.0" height="10.0" fill="#1f1a17"/>
<rect x="1460.7" y="52.2" width="10.0" height="10.0" fill="#1f1a17"/>
<rect x="1482.2" y="41.9" width="10.0" height="10.0" fill="#1f1a17"/>
<rect x="1503.7" y="32.1" width="10.0" height="10.0" fill="#1f1a17"/>
<path d="M864.4,548.5 Q873.4,545.1 885.9,533.0 L907.4,511.3 928.8,488.0 950.3,465.0 971.8,442.3 993.3,420.1 1014.7,398.4 1036.2,376.8 1057.7,356.2 1079.2,337.4 1100.6,320.4 1122.1,304.4 1143.6,289.6 1165.1,275.7 1186.5,262.3 1208.0,249.3 1229.5,237.4 1251.0,226.5 1272.5,216.5 1293.9,207.1 1315.4,198.5 1336.9,190.6 1358.4,183.5 1379.8,177.0 1401.3,171.0 1422.8,165.5 1444.3,160.5 1465.7,155.5 1487.2,150.5 1508.7,145.5" fill="none" stroke="#E8403F" stroke-width="2.55" stroke-linejoin="round"/>
<circle cx="885.9" cy="533.0" r="5.65" fill="#E8403F"/>
<circle cx="907.4" cy="511.3" r="5.65" fill="#E8403F"/>
<circle cx="928.8" cy="488.0" r="5.65" fill="#E8403F"/>
<circle cx="950.3" cy="465.0" r="5.65" fill="#E8403F"/>
<circle cx="971.8" cy="442.3" r="5.65" fill="#E8403F"/>
<circle cx="993.3" cy="420.1" r="5.65" fill="#E8403F"/>
<circle cx="1014.7" cy="398.4" r="5.65" fill="#E8403F"/>
<circle cx="1036.2" cy="376.8" r="5.65" fill="#E8403F"/>
<circle cx="1057.7" cy="356.2" r="5.65" fill="#E8403F"/>
<circle cx="1079.2" cy="337.4" r="5.65" fill="#E8403F"/>
<circle cx="1100.6" cy="320.4" r="5.65" fill="#E8403F"/>
<circle cx="1122.1" cy="304.4" r="5.65" fill="#E8403F"/>
<circle cx="1143.6" cy="289.6" r="5.65" fill="#E8403F"/>
<circle cx="1165.1" cy="275.7" r="5.65" fill="#E8403F"/>
<circle cx="1186.5" cy="262.3" r="5.65" fill="#E8403F"/>
<circle cx="1208.0" cy="249.3" r="5.65" fill="#E8403F"/>
<circle cx="1229.5" cy="237.4" r="5.65" fill="#E8403F"/>
<circle cx="1251.0" cy="226.5" r="5.65" fill="#E8403F"/>
<circle cx="1272.5" cy="216.5" r="5.65" fill="#E8403F"/>
<circle cx="1293.9" cy="207.1" r="5.65" fill="#E8403F"/>
<circle cx="1315.4" cy="198.5" r="5.65" fill="#E8403F"/>
<circle cx="1336.9" cy="190.6" r="5.65" fill="#E8403F"/>
<circle cx="1358.4" cy="183.5" r="5.65" fill="#E8403F"/>
<circle cx="1379.8" cy="177.0" r="5.65" fill="#E8403F"/>
<circle cx="1401.3" cy="171.0" r="5.65" fill="#E8403F"/>
<circle cx="1422.8" cy="165.5" r="5.65" fill="#E8403F"/>
<circle cx="1444.3" cy="160.5" r="5.65" fill="#E8403F"/>
<circle cx="1465.7" cy="155.5" r="5.65" fill="#E8403F"/>
<circle cx="1487.2" cy="150.5" r="5.65" fill="#E8403F"/>
<circle cx="1508.7" cy="145.5" r="5.65" fill="#E8403F"/>
<path d="M864.4,548.5 Q873.4,544.5 885.9,530.5 L907.4,507.8 928.8,483.9 950.3,460.7 971.8,437.7 993.3,414.8 1014.7,393.6 1036.2,374.7 1057.7,357.1 1079.2,340.8 1100.6,326.3 1122.1,313.7 1143.6,302.2 1165.1,291.3 1186.5,281.2 1208.0,271.9 1229.5,263.6 1251.0,256.4 1272.5,250.0 1293.9,244.3 1315.4,239.2 1336.9,234.6 1358.4,230.2 1379.8,226.2 1401.3,222.6 1422.8,219.5 1444.3,216.9 1465.7,214.5 1487.2,212.2 1508.7,210.0" fill="none" stroke="#3F68B5" stroke-width="2.55" stroke-linejoin="round"/>
<polygon points="879.9,534.1 891.9,534.1 885.9,524.1" fill="#3F68B5"/>
<polygon points="901.4,511.4 913.4,511.4 907.4,501.4" fill="#3F68B5"/>
<polygon points="922.8,487.5 934.8,487.5 928.8,477.5" fill="#3F68B5"/>
<polygon points="944.3,464.3 956.3,464.3 950.3,454.3" fill="#3F68B5"/>
<polygon points="965.8,441.3 977.8,441.3 971.8,431.3" fill="#3F68B5"/>
<polygon points="987.3,418.4 999.3,418.4 993.3,408.4" fill="#3F68B5"/>
<polygon points="1008.7,397.2 1020.7,397.2 1014.7,387.2" fill="#3F68B5"/>
<polygon points="1030.2,378.3 1042.2,378.3 1036.2,368.3" fill="#3F68B5"/>
<polygon points="1051.7,360.7 1063.7,360.7 1057.7,350.7" fill="#3F68B5"/>
<polygon points="1073.2,344.4 1085.2,344.4 1079.2,334.4" fill="#3F68B5"/>
<polygon points="1094.6,329.9 1106.6,329.9 1100.6,319.9" fill="#3F68B5"/>
<polygon points="1116.1,317.3 1128.1,317.3 1122.1,307.3" fill="#3F68B5"/>
<polygon points="1137.6,305.8 1149.6,305.8 1143.6,295.8" fill="#3F68B5"/>
<polygon points="1159.1,294.9 1171.1,294.9 1165.1,284.9" fill="#3F68B5"/>
<polygon points="1180.5,284.8 1192.5,284.8 1186.5,274.8" fill="#3F68B5"/>
<polygon points="1202.0,275.5 1214.0,275.5 1208.0,265.5" fill="#3F68B5"/>
<polygon points="1223.5,267.2 1235.5,267.2 1229.5,257.2" fill="#3F68B5"/>
<polygon points="1245.0,260.0 1257.0,260.0 1251.0,250.0" fill="#3F68B5"/>
<polygon points="1266.5,253.6 1278.5,253.6 1272.5,243.6" fill="#3F68B5"/>
<polygon points="1287.9,247.9 1299.9,247.9 1293.9,237.9" fill="#3F68B5"/>
<polygon points="1309.4,242.8 1321.4,242.8 1315.4,232.8" fill="#3F68B5"/>
<polygon points="1330.9,238.2 1342.9,238.2 1336.9,228.2" fill="#3F68B5"/>
<polygon points="1352.4,233.8 1364.4,233.8 1358.4,223.8" fill="#3F68B5"/>
<polygon points="1373.8,229.8 1385.8,229.8 1379.8,219.8" fill="#3F68B5"/>
<polygon points="1395.3,226.2 1407.3,226.2 1401.3,216.2" fill="#3F68B5"/>
<polygon points="1416.8,223.1 1428.8,223.1 1422.8,213.1" fill="#3F68B5"/>
<polygon points="1438.3,220.5 1450.3,220.5 1444.3,210.5" fill="#3F68B5"/>
<polygon points="1459.7,218.1 1471.7,218.1 1465.7,208.1" fill="#3F68B5"/>
<polygon points="1481.2,215.8 1493.2,215.8 1487.2,205.8" fill="#3F68B5"/>
<polygon points="1502.7,213.6 1514.7,213.6 1508.7,203.6" fill="#3F68B5"/>
<path d="M864.4,548.5 Q873.4,544.2 885.9,529.0 L907.4,505.3 928.8,480.8 950.3,457.4 971.8,435.5 993.3,414.5 1014.7,395.2 1036.2,377.2 1057.7,360.6 1079.2,345.6 1100.6,333.3 1122.1,323.2 1143.6,314.4 1165.1,306.1 1186.5,298.7 1208.0,292.2 1229.5,286.4 1251.0,281.1 1272.5,276.2 1293.9,271.8 1315.4,267.9 1336.9,264.6 1358.4,261.9 1379.8,259.5 1401.3,257.4 1422.8,255.6 1444.3,253.9 1465.7,252.4 1487.2,250.9 1508.7,249.6" fill="none" stroke="#3FA464" stroke-width="2.55" stroke-linejoin="round"/>
<polygon points="879.9,525.4 891.9,525.4 885.9,535.4" fill="#3FA464"/>
<polygon points="901.4,501.7 913.4,501.7 907.4,511.7" fill="#3FA464"/>
<polygon points="922.8,477.2 934.8,477.2 928.8,487.2" fill="#3FA464"/>
<polygon points="944.3,453.8 956.3,453.8 950.3,463.8" fill="#3FA464"/>
<polygon points="965.8,431.9 977.8,431.9 971.8,441.9" fill="#3FA464"/>
<polygon points="987.3,410.9 999.3,410.9 993.3,420.9" fill="#3FA464"/>
<polygon points="1008.7,391.6 1020.7,391.6 1014.7,401.6" fill="#3FA464"/>
<polygon points="1030.2,373.6 1042.2,373.6 1036.2,383.6" fill="#3FA464"/>
<polygon points="1051.7,357.0 1063.7,357.0 1057.7,367.0" fill="#3FA464"/>
<polygon points="1073.2,342.0 1085.2,342.0 1079.2,352.0" fill="#3FA464"/>
<polygon points="1094.6,329.7 1106.6,329.7 1100.6,339.7" fill="#3FA464"/>
<polygon points="1116.1,319.6 1128.1,319.6 1122.1,329.6" fill="#3FA464"/>
<polygon points="1137.6,310.8 1149.6,310.8 1143.6,320.8" fill="#3FA464"/>
<polygon points="1159.1,302.5 1171.1,302.5 1165.1,312.5" fill="#3FA464"/>
<polygon points="1180.5,295.1 1192.5,295.1 1186.5,305.1" fill="#3FA464"/>
<polygon points="1202.0,288.6 1214.0,288.6 1208.0,298.6" fill="#3FA464"/>
<polygon points="1223.5,282.8 1235.5,282.8 1229.5,292.8" fill="#3FA464"/>
<polygon points="1245.0,277.5 1257.0,277.5 1251.0,287.5" fill="#3FA464"/>
<polygon points="1266.5,272.6 1278.5,272.6 1272.5,282.6" fill="#3FA464"/>
<polygon points="1287.9,268.2 1299.9,268.2 1293.9,278.2" fill="#3FA464"/>
<polygon points="1309.4,264.3 1321.4,264.3 1315.4,274.3" fill="#3FA464"/>
<polygon points="1330.9,261.0 1342.9,261.0 1336.9,271.0" fill="#3FA464"/>
<polygon points="1352.4,258.3 1364.4,258.3 1358.4,268.3" fill="#3FA464"/>
<polygon points="1373.8,255.9 1385.8,255.9 1379.8,265.9" fill="#3FA464"/>
<polygon points="1395.3,253.8 1407.3,253.8 1401.3,263.8" fill="#3FA464"/>
<polygon points="1416.8,252.0 1428.8,252.0 1422.8,262.0" fill="#3FA464"/>
<polygon points="1438.3,250.3 1450.3,250.3 1444.3,260.3" fill="#3FA464"/>
<polygon points="1459.7,248.8 1471.7,248.8 1465.7,258.8" fill="#3FA464"/>
<polygon points="1481.2,247.3 1493.2,247.3 1487.2,257.3" fill="#3FA464"/>
<polygon points="1502.7,246.0 1514.7,246.0 1508.7,256.0" fill="#3FA464"/>
<path d="M864.4,548.5 Q873.4,543.9 885.9,527.5 L907.4,503.0 928.8,478.2 950.3,454.9 971.8,433.6 993.3,413.8 1014.7,395.9 1036.2,379.1 1057.7,363.8 1079.2,350.7 1100.6,340.4 1122.1,331.8 1143.6,323.8 1165.1,316.3 1186.5,309.4 1208.0,303.4 1229.5,298.3 1251.0,294.1 1272.5,290.5 1293.9,287.5 1315.4,284.8 1336.9,282.5 1358.4,280.4 1379.8,278.6 1401.3,277.1 1422.8,276.0 1444.3,275.1 1465.7,274.2 1487.2,273.2 1508.7,272.2" fill="none" stroke="#A67ABF" stroke-width="2.55" stroke-linejoin="round"/>
<polygon points="879.3,527.5 885.9,520.5 892.5,527.5 885.9,534.5" fill="#A67ABF"/>
<polygon points="900.8,503.0 907.4,496.0 914.0,503.0 907.4,510.0" fill="#A67ABF"/>
<polygon points="922.2,478.2 928.8,471.2 935.4,478.2 928.8,485.2" fill="#A67ABF"/>
<polygon points="943.7,454.9 950.3,447.9 956.9,454.9 950.3,461.9" fill="#A67ABF"/>
<polygon points="965.2,433.6 971.8,426.6 978.4,433.6 971.8,440.6" fill="#A67ABF"/>
<polygon points="986.7,413.8 993.3,406.8 999.9,413.8 993.3,420.8" fill="#A67ABF"/>
<polygon points="1008.1,395.9 1014.7,388.9 1021.3,395.9 1014.7,402.9" fill="#A67ABF"/>
<polygon points="1029.6,379.1 1036.2,372.1 1042.8,379.1 1036.2,386.1" fill="#A67ABF"/>
<polygon points="1051.1,363.8 1057.7,356.8 1064.3,363.8 1057.7,370.8" fill="#A67ABF"/>
<polygon points="1072.6,350.7 1079.2,343.7 1085.8,350.7 1079.2,357.7" fill="#A67ABF"/>
<polygon points="1094.0,340.4 1100.6,333.4 1107.2,340.4 1100.6,347.4" fill="#A67ABF"/>
<polygon points="1115.5,331.8 1122.1,324.8 1128.7,331.8 1122.1,338.8" fill="#A67ABF"/>
<polygon points="1137.0,323.8 1143.6,316.8 1150.2,323.8 1143.6,330.8" fill="#A67ABF"/>
<polygon points="1158.5,316.3 1165.1,309.3 1171.7,316.3 1165.1,323.3" fill="#A67ABF"/>
<polygon points="1180.0,309.4 1186.5,302.4 1193.1,309.4 1186.5,316.4" fill="#A67ABF"/>
<polygon points="1201.4,303.4 1208.0,296.4 1214.6,303.4 1208.0,310.4" fill="#A67ABF"/>
<polygon points="1222.9,298.3 1229.5,291.3 1236.1,298.3 1229.5,305.3" fill="#A67ABF"/>
<polygon points="1244.4,294.1 1251.0,287.1 1257.6,294.1 1251.0,301.1" fill="#A67ABF"/>
<polygon points="1265.9,290.5 1272.5,283.5 1279.1,290.5 1272.5,297.5" fill="#A67ABF"/>
<polygon points="1287.3,287.5 1293.9,280.5 1300.5,287.5 1293.9,294.5" fill="#A67ABF"/>
<polygon points="1308.8,284.8 1315.4,277.8 1322.0,284.8 1315.4,291.8" fill="#A67ABF"/>
<polygon points="1330.3,282.5 1336.9,275.5 1343.5,282.5 1336.9,289.5" fill="#A67ABF"/>
<polygon points="1351.8,280.4 1358.4,273.4 1365.0,280.4 1358.4,287.4" fill="#A67ABF"/>
<polygon points="1373.2,278.6 1379.8,271.6 1386.4,278.6 1379.8,285.6" fill="#A67ABF"/>
<polygon points="1394.7,277.1 1401.3,270.1 1407.9,277.1 1401.3,284.1" fill="#A67ABF"/>
<polygon points="1416.2,276.0 1422.8,269.0 1429.4,276.0 1422.8,283.0" fill="#A67ABF"/>
<polygon points="1437.7,275.1 1444.3,268.1 1450.9,275.1 1444.3,282.1" fill="#A67ABF"/>
<polygon points="1459.1,274.2 1465.7,267.2 1472.3,274.2 1465.7,281.2" fill="#A67ABF"/>
<polygon points="1480.6,273.2 1487.2,266.2 1493.8,273.2 1487.2,280.2" fill="#A67ABF"/>
<polygon points="1502.1,272.2 1508.7,265.2 1515.3,272.2 1508.7,279.2" fill="#A67ABF"/>
<path d="M864.4,548.5 Q873.4,543.4 885.9,525.5 L907.4,499.8 928.8,474.5 950.3,451.4 971.8,430.8 993.3,412.4 1014.7,396.5 1036.2,381.9 1057.7,369.4 1079.2,358.9 1100.6,350.7 1122.1,343.0 1143.6,336.0 1165.1,329.9 1186.5,324.6 1208.0,320.2 1229.5,316.4 1251.0,313.1 1272.5,310.4 1293.9,308.0 1315.4,305.8 1336.9,303.6 1358.4,301.8 1379.8,300.3 1401.3,299.4 1422.8,298.8 1444.3,298.2 1465.7,297.7 1487.2,297.2 1508.7,296.6" fill="none" stroke="#45B5A7" stroke-width="2.55" stroke-linejoin="round"/>
<polygon points="881.9,519.2 881.9,531.8 892.9,525.5" fill="#45B5A7"/>
<polygon points="903.4,493.5 903.4,506.1 914.4,499.8" fill="#45B5A7"/>
<polygon points="924.9,468.2 924.9,480.8 935.9,474.5" fill="#45B5A7"/>
<polygon points="946.3,445.1 946.3,457.7 957.3,451.4" fill="#45B5A7"/>
<polygon points="967.8,424.5 967.8,437.1 978.8,430.8" fill="#45B5A7"/>
<polygon points="989.3,406.1 989.3,418.7 1000.3,412.4" fill="#45B5A7"/>
<polygon points="1010.8,390.2 1010.8,402.8 1021.8,396.5" fill="#45B5A7"/>
<polygon points="1032.3,375.6 1032.3,388.2 1043.3,381.9" fill="#45B5A7"/>
<polygon points="1053.7,363.1 1053.7,375.7 1064.7,369.4" fill="#45B5A7"/>
<polygon points="1075.2,352.6 1075.2,365.2 1086.2,358.9" fill="#45B5A7"/>
<polygon points="1096.7,344.4 1096.7,357.0 1107.7,350.7" fill="#45B5A7"/>
<polygon points="1118.2,336.7 1118.2,349.3 1129.2,343.0" fill="#45B5A7"/>
<polygon points="1139.6,329.7 1139.6,342.3 1150.6,336.0" fill="#45B5A7"/>
<polygon points="1161.1,323.6 1161.1,336.2 1172.1,329.9" fill="#45B5A7"/>
<polygon points="1182.6,318.3 1182.6,330.9 1193.6,324.6" fill="#45B5A7"/>
<polygon points="1204.1,313.9 1204.1,326.5 1215.1,320.2" fill="#45B5A7"/>
<polygon points="1225.5,310.1 1225.5,322.7 1236.5,316.4" fill="#45B5A7"/>
<polygon points="1247.0,306.8 1247.0,319.4 1258.0,313.1" fill="#45B5A7"/>
<polygon points="1268.5,304.1 1268.5,316.7 1279.5,310.4" fill="#45B5A7"/>
<polygon points="1290.0,301.7 1290.0,314.3 1301.0,308.0" fill="#45B5A7"/>
<polygon points="1311.5,299.5 1311.5,312.1 1322.5,305.8" fill="#45B5A7"/>
<polygon points="1332.9,297.3 1332.9,309.9 1343.9,303.6" fill="#45B5A7"/>
<polygon points="1354.4,295.5 1354.4,308.1 1365.4,301.8" fill="#45B5A7"/>
<polygon points="1375.9,294.0 1375.9,306.6 1386.9,300.3" fill="#45B5A7"/>
<polygon points="1397.4,293.1 1397.4,305.7 1408.4,299.4" fill="#45B5A7"/>
<polygon points="1418.8,292.5 1418.8,305.1 1429.8,298.8" fill="#45B5A7"/>
<polygon points="1440.3,291.9 1440.3,304.5 1451.3,298.2" fill="#45B5A7"/>
<polygon points="1461.8,291.4 1461.8,304.0 1472.8,297.7" fill="#45B5A7"/>
<polygon points="1483.3,290.9 1483.3,303.5 1494.3,297.2" fill="#45B5A7"/>
<polygon points="1504.7,290.3 1504.7,302.9 1515.7,296.6" fill="#45B5A7"/>
<path d="M864.4,548.5 Q873.4,543.7 885.9,526.5 L907.4,501.4 928.8,476.2 950.3,453.0 971.8,432.1 993.3,413.3 1014.7,396.7 1036.2,381.2 1057.7,367.1 1079.2,354.9 1100.6,345.6 1122.1,337.6 1143.6,330.3 1165.1,323.7 1186.5,318.0 1208.0,313.0 1229.5,308.7 1251.0,304.9 1272.5,301.7 1293.9,298.9 1315.4,296.5 1336.9,294.5 1358.4,292.6 1379.8,290.9 1401.3,289.6 1422.8,288.9 1444.3,288.2 1465.7,287.7 1487.2,287.2 1508.7,286.7" fill="none" stroke="#C8962C" stroke-width="2.55" stroke-linejoin="round"/>
<polygon points="889.8,520.2 889.8,532.8 878.8,526.5" fill="#C8962C"/>
<polygon points="911.3,495.1 911.3,507.7 900.3,501.4" fill="#C8962C"/>
<polygon points="932.8,469.9 932.8,482.5 921.8,476.2" fill="#C8962C"/>
<polygon points="954.3,446.7 954.3,459.3 943.3,453.0" fill="#C8962C"/>
<polygon points="975.7,425.8 975.7,438.4 964.7,432.1" fill="#C8962C"/>
<polygon points="997.2,407.0 997.2,419.6 986.2,413.3" fill="#C8962C"/>
<polygon points="1018.7,390.4 1018.7,403.0 1007.7,396.7" fill="#C8962C"/>
<polygon points="1040.2,374.9 1040.2,387.5 1029.2,381.2" fill="#C8962C"/>
<polygon points="1061.7,360.8 1061.7,373.4 1050.7,367.1" fill="#C8962C"/>
<polygon points="1083.1,348.6 1083.1,361.2 1072.1,354.9" fill="#C8962C"/>
<polygon points="1104.6,339.3 1104.6,351.9 1093.6,345.6" fill="#C8962C"/>
<polygon points="1126.1,331.3 1126.1,343.9 1115.1,337.6" fill="#C8962C"/>
<polygon points="1147.6,324.0 1147.6,336.6 1136.6,330.3" fill="#C8962C"/>
<polygon points="1169.0,317.4 1169.0,330.0 1158.0,323.7" fill="#C8962C"/>
<polygon points="1190.5,311.7 1190.5,324.3 1179.5,318.0" fill="#C8962C"/>
<polygon points="1212.0,306.7 1212.0,319.3 1201.0,313.0" fill="#C8962C"/>
<polygon points="1233.5,302.4 1233.5,315.0 1222.5,308.7" fill="#C8962C"/>
<polygon points="1254.9,298.6 1254.9,311.2 1243.9,304.9" fill="#C8962C"/>
<polygon points="1276.4,295.4 1276.4,308.0 1265.4,301.7" fill="#C8962C"/>
<polygon points="1297.9,292.6 1297.9,305.2 1286.9,298.9" fill="#C8962C"/>
<polygon points="1319.4,290.2 1319.4,302.8 1308.4,296.5" fill="#C8962C"/>
<polygon points="1340.8,288.2 1340.8,300.8 1329.8,294.5" fill="#C8962C"/>
<polygon points="1362.3,286.3 1362.3,298.9 1351.3,292.6" fill="#C8962C"/>
<polygon points="1383.8,284.6 1383.8,297.2 1372.8,290.9" fill="#C8962C"/>
<polygon points="1405.3,283.3 1405.3,295.9 1394.3,289.6" fill="#C8962C"/>
<polygon points="1426.8,282.6 1426.8,295.2 1415.8,288.9" fill="#C8962C"/>
<polygon points="1448.2,281.9 1448.2,294.5 1437.2,288.2" fill="#C8962C"/>
<polygon points="1469.7,281.4 1469.7,294.0 1458.7,287.7" fill="#C8962C"/>
<polygon points="1491.2,280.9 1491.2,293.5 1480.2,287.2" fill="#C8962C"/>
<polygon points="1512.7,280.4 1512.7,293.0 1501.7,286.7" fill="#C8962C"/>
<path d="M864.4,548.5 Q873.4,543.2 885.9,524.4 L907.4,498.1 928.8,472.8 950.3,450.0 971.8,429.6 993.3,411.7 1014.7,396.3 1036.2,382.3 1057.7,370.0 1079.2,359.8 1100.6,351.7 1122.1,344.4 1143.6,337.9 1165.1,332.1 1186.5,327.3 1208.0,323.3 1229.5,319.9 1251.0,317.0 1272.5,314.4 1293.9,312.3 1315.4,310.3 1336.9,308.6 1358.4,307.1 1379.8,306.0 1401.3,305.1 1422.8,304.4 1444.3,303.8 1465.7,303.2 1487.2,302.7 1508.7,302.2" fill="none" stroke="#7B4A48" stroke-width="2.55" stroke-linejoin="round"/>
<polygon points="885.9,518.4 891.1,521.4 891.1,527.4 885.9,530.4 880.7,527.4 880.7,521.4" fill="#7B4A48"/>
<polygon points="907.4,492.1 912.6,495.1 912.6,501.1 907.4,504.1 902.2,501.1 902.2,495.1" fill="#7B4A48"/>
<polygon points="928.8,466.8 934.0,469.8 934.0,475.8 928.8,478.8 923.6,475.8 923.6,469.8" fill="#7B4A48"/>
<polygon points="950.3,444.0 955.5,447.0 955.5,453.0 950.3,456.0 945.1,453.0 945.1,447.0" fill="#7B4A48"/>
<polygon points="971.8,423.6 977.0,426.6 977.0,432.6 971.8,435.6 966.6,432.6 966.6,426.6" fill="#7B4A48"/>
<polygon points="993.3,405.7 998.5,408.7 998.5,414.7 993.3,417.7 988.1,414.7 988.1,408.7" fill="#7B4A48"/>
<polygon points="1014.7,390.3 1019.9,393.3 1019.9,399.3 1014.7,402.3 1009.5,399.3 1009.5,393.3" fill="#7B4A48"/>
<polygon points="1036.2,376.3 1041.4,379.3 1041.4,385.3 1036.2,388.3 1031.0,385.3 1031.0,379.3" fill="#7B4A48"/>
<polygon points="1057.7,364.0 1062.9,367.0 1062.9,373.0 1057.7,376.0 1052.5,373.0 1052.5,367.0" fill="#7B4A48"/>
<polygon points="1079.2,353.8 1084.4,356.8 1084.4,362.8 1079.2,365.8 1074.0,362.8 1074.0,356.8" fill="#7B4A48"/>
<polygon points="1100.6,345.7 1105.8,348.7 1105.8,354.7 1100.6,357.7 1095.4,354.7 1095.4,348.7" fill="#7B4A48"/>
<polygon points="1122.1,338.4 1127.3,341.4 1127.3,347.4 1122.1,350.4 1116.9,347.4 1116.9,341.4" fill="#7B4A48"/>
<polygon points="1143.6,331.9 1148.8,334.9 1148.8,340.9 1143.6,343.9 1138.4,340.9 1138.4,334.9" fill="#7B4A48"/>
<polygon points="1165.1,326.1 1170.3,329.1 1170.3,335.1 1165.1,338.1 1159.9,335.1 1159.9,329.1" fill="#7B4A48"/>
<polygon points="1186.5,321.3 1191.8,324.3 1191.8,330.3 1186.5,333.3 1181.3,330.3 1181.3,324.3" fill="#7B4A48"/>
<polygon points="1208.0,317.3 1213.2,320.3 1213.2,326.3 1208.0,329.3 1202.8,326.3 1202.8,320.3" fill="#7B4A48"/>
<polygon points="1229.5,313.9 1234.7,316.9 1234.7,322.9 1229.5,325.9 1224.3,322.9 1224.3,316.9" fill="#7B4A48"/>
<polygon points="1251.0,311.0 1256.2,314.0 1256.2,320.0 1251.0,323.0 1245.8,320.0 1245.8,314.0" fill="#7B4A48"/>
<polygon points="1272.5,308.4 1277.7,311.4 1277.7,317.4 1272.5,320.4 1267.3,317.4 1267.3,311.4" fill="#7B4A48"/>
<polygon points="1293.9,306.3 1299.1,309.3 1299.1,315.3 1293.9,318.3 1288.7,315.3 1288.7,309.3" fill="#7B4A48"/>
<polygon points="1315.4,304.3 1320.6,307.3 1320.6,313.3 1315.4,316.3 1310.2,313.3 1310.2,307.3" fill="#7B4A48"/>
<polygon points="1336.9,302.6 1342.1,305.6 1342.1,311.6 1336.9,314.6 1331.7,311.6 1331.7,305.6" fill="#7B4A48"/>
<polygon points="1358.4,301.1 1363.6,304.1 1363.6,310.1 1358.4,313.1 1353.2,310.1 1353.2,304.1" fill="#7B4A48"/>
<polygon points="1379.8,300.0 1385.0,303.0 1385.0,309.0 1379.8,312.0 1374.6,309.0 1374.6,303.0" fill="#7B4A48"/>
<polygon points="1401.3,299.1 1406.5,302.1 1406.5,308.1 1401.3,311.1 1396.1,308.1 1396.1,302.1" fill="#7B4A48"/>
<polygon points="1422.8,298.4 1428.0,301.4 1428.0,307.4 1422.8,310.4 1417.6,307.4 1417.6,301.4" fill="#7B4A48"/>
<polygon points="1444.3,297.8 1449.5,300.8 1449.5,306.8 1444.3,309.8 1439.1,306.8 1439.1,300.8" fill="#7B4A48"/>
<polygon points="1465.7,297.2 1470.9,300.2 1470.9,306.2 1465.7,309.2 1460.5,306.2 1460.5,300.2" fill="#7B4A48"/>
<polygon points="1487.2,296.7 1492.4,299.7 1492.4,305.7 1487.2,308.7 1482.0,305.7 1482.0,299.7" fill="#7B4A48"/>
<polygon points="1508.7,296.2 1513.9,299.2 1513.9,305.2 1508.7,308.2 1503.5,305.2 1503.5,299.2" fill="#7B4A48"/>
<line x1="1349.5" y1="311" x2="1349.5" y2="548.6" stroke="#7B4A48" stroke-width="2.6" stroke-dasharray="6.2 3"/>
<line x1="1376.5" y1="295.5" x2="1376.5" y2="548.6" stroke="#45B5A7" stroke-width="2.6" stroke-dasharray="6.2 3"/>
<line x1="1407.8" y1="289" x2="1407.8" y2="548.6" stroke="#C8962C" stroke-width="2.6" stroke-dasharray="6.2 3"/>
<line x1="1447.5" y1="281" x2="1447.5" y2="548.6" stroke="#A67ABF" stroke-width="2.6" stroke-dasharray="6.2 3"/>
<line x1="1491.3" y1="250" x2="1491.3" y2="548.6" stroke="#3FA464" stroke-width="2.6" stroke-dasharray="6.2 3"/>
</g>
<rect x="864.4" y="30.5" width="644.3" height="518.1" fill="none" stroke="#231815" stroke-width="2"/>
<line x1="936.0" y1="548.6" x2="936.0" y2="538.6" stroke="#231815" stroke-width="2"/>
<line x1="1007.6" y1="548.6" x2="1007.6" y2="538.6" stroke="#231815" stroke-width="2"/>
<line x1="1079.2" y1="548.6" x2="1079.2" y2="538.6" stroke="#231815" stroke-width="2"/>
<line x1="1150.8" y1="548.6" x2="1150.8" y2="538.6" stroke="#231815" stroke-width="2"/>
<line x1="1222.3" y1="548.6" x2="1222.3" y2="538.6" stroke="#231815" stroke-width="2"/>
<line x1="1293.9" y1="548.6" x2="1293.9" y2="538.6" stroke="#231815" stroke-width="2"/>
<line x1="1365.5" y1="548.6" x2="1365.5" y2="538.6" stroke="#231815" stroke-width="2"/>
<line x1="1437.1" y1="548.6" x2="1437.1" y2="538.6" stroke="#231815" stroke-width="2"/>
<line x1="864.4" y1="462.2" x2="874.4" y2="462.2" stroke="#231815" stroke-width="2"/>
<line x1="864.4" y1="375.9" x2="874.4" y2="375.9" stroke="#231815" stroke-width="2"/>
<line x1="864.4" y1="289.6" x2="874.4" y2="289.6" stroke="#231815" stroke-width="2"/>
<line x1="864.4" y1="203.2" x2="874.4" y2="203.2" stroke="#231815" stroke-width="2"/>
<line x1="864.4" y1="116.8" x2="874.4" y2="116.8" stroke="#231815" stroke-width="2"/>
<text x="855.3" y="473.9" text-anchor="end" font-size="30">2</text>
<text x="855.3" y="386.7" text-anchor="end" font-size="30">4</text>
<text x="855.3" y="299.4" text-anchor="end" font-size="30">6</text>
<text x="855.3" y="212.2" text-anchor="end" font-size="30">8</text>
<text x="855.3" y="125.0" text-anchor="end" font-size="30">10</text>
<text x="855.3" y="37.7" text-anchor="end" font-size="30">12</text>
<text x="854.7" y="583.9" font-size="30" textLength="15.9" lengthAdjust="spacingAndGlyphs">0</text>
<text x="910.0" y="583.9" font-size="30" textLength="47.7" lengthAdjust="spacingAndGlyphs">400</text>
<text x="980.7" y="583.9" font-size="30" textLength="47.7" lengthAdjust="spacingAndGlyphs">800</text>
<text x="1042.3" y="583.9" font-size="30" textLength="63.6" lengthAdjust="spacingAndGlyphs">1200</text>
<text x="1114.5" y="583.9" font-size="30" textLength="63.6" lengthAdjust="spacingAndGlyphs">1600</text>
<text x="1187.5" y="583.9" font-size="30" textLength="63.6" lengthAdjust="spacingAndGlyphs">2000</text>
<text x="1259.0" y="583.9" font-size="30" textLength="63.6" lengthAdjust="spacingAndGlyphs">2400</text>
<text x="1330.1" y="583.9" font-size="30" textLength="63.6" lengthAdjust="spacingAndGlyphs">2800</text>
<text x="1401.6" y="583.9" font-size="30" textLength="63.6" lengthAdjust="spacingAndGlyphs">3200</text>
<text x="1472.4" y="583.9" font-size="30" textLength="63.6" lengthAdjust="spacingAndGlyphs">3600</text>
<text y="627.3" class="cj"><tspan x="1145.4">时</tspan><tspan x="1176.0">间</tspan></text>
<text y="626.5" font-size="29"><tspan x="1206.5">/</tspan><tspan x="1215.8">s</tspan></text>
<text transform="translate(1324.7,409.8) rotate(90)" font-size="31.2" textLength="67.6" lengthAdjust="spacingAndGlyphs">2750</text>
<text transform="translate(1356.2,409.8) rotate(90)" font-size="31.2" textLength="67.6" lengthAdjust="spacingAndGlyphs">2900</text>
<text transform="translate(1385.3,409.8) rotate(90)" font-size="31.2" textLength="67.6" lengthAdjust="spacingAndGlyphs">3050</text>
<text transform="translate(1420.7,409.8) rotate(90)" font-size="31.2" textLength="67.6" lengthAdjust="spacingAndGlyphs">3250</text>
<text transform="translate(1462.3,409.8) rotate(90)" font-size="31.2" textLength="67.6" lengthAdjust="spacingAndGlyphs">3500</text>
<line x1="893.8" y1="67.3" x2="927.8" y2="67.3" stroke="#1f1a17" stroke-width="2.55"/>
<rect x="922.8" y="62.3" width="10.0" height="10.0" fill="#1f1a17"/>
<text x="959.4" y="81.8" font-size="31.1">0.2 m/s</text>
<line x1="893.8" y1="102.8" x2="927.8" y2="102.8" stroke="#E8403F" stroke-width="2.55"/>
<circle cx="927.8" cy="102.8" r="5.65" fill="#E8403F"/>
<text x="959.4" y="115.1" font-size="31.1">0.4 m/s</text>
<line x1="893.8" y1="138.8" x2="927.8" y2="138.8" stroke="#3F68B5" stroke-width="2.55"/>
<polygon points="921.8,142.4 933.8,142.4 927.8,132.4" fill="#3F68B5"/>
<text x="959.4" y="148.4" font-size="31.1">0.6 m/s</text>
<line x1="893.8" y1="175.2" x2="927.8" y2="175.2" stroke="#3FA464" stroke-width="2.55"/>
<polygon points="921.8,171.6 933.8,171.6 927.8,181.6" fill="#3FA464"/>
<text x="959.4" y="181.7" font-size="31.1">0.8 m/s</text>
<line x1="1112.2" y1="67.3" x2="1146" y2="67.3" stroke="#A67ABF" stroke-width="2.55"/>
<polygon points="1139.4,67.3 1146.0,60.3 1152.6,67.3 1146.0,74.3" fill="#A67ABF"/>
<text x="1157.7" y="81.8" font-size="31.1">1.0 m/s</text>
<line x1="1112.2" y1="102.8" x2="1146" y2="102.8" stroke="#C8962C" stroke-width="2.55"/>
<polygon points="1150.0,96.5 1150.0,109.1 1139.0,102.8" fill="#C8962C"/>
<text x="1157.7" y="115.1" font-size="31.1">1.2 m/s</text>
<line x1="1112.2" y1="138.8" x2="1146" y2="138.8" stroke="#45B5A7" stroke-width="2.55"/>
<polygon points="1142.0,132.5 1142.0,145.1 1153.0,138.8" fill="#45B5A7"/>
<text x="1157.7" y="148.4" font-size="31.1">1.4 m/s</text>
<line x1="1112.2" y1="175.2" x2="1146" y2="175.2" stroke="#7B4A48" stroke-width="2.55"/>
<polygon points="1146.0,169.2 1151.2,172.2 1151.2,178.2 1146.0,181.2 1140.8,178.2 1140.8,172.2" fill="#7B4A48"/>
<text x="1157.7" y="181.7" font-size="31.1">1.6 m/s</text>
<text x="770.2" y="21.2" font-size="28">(b)</text>
<text transform="translate(811.2,342.2) rotate(-90)" font-size="29">Δ</text>
<text transform="translate(811.2,321.8) rotate(-90)" font-size="29" font-style="italic">T</text>
<text transform="translate(816.7,304.0) rotate(-90)" font-size="17.5">max</text>
<text transform="translate(811.2,268.8) rotate(-90)" font-size="28" style="stroke-width:0.2px">/</text>
<text transform="translate(811.5,255.5) rotate(-90)" class="cj" style="font-size:26px">℃</text>
</svg>
</body>
</html>
